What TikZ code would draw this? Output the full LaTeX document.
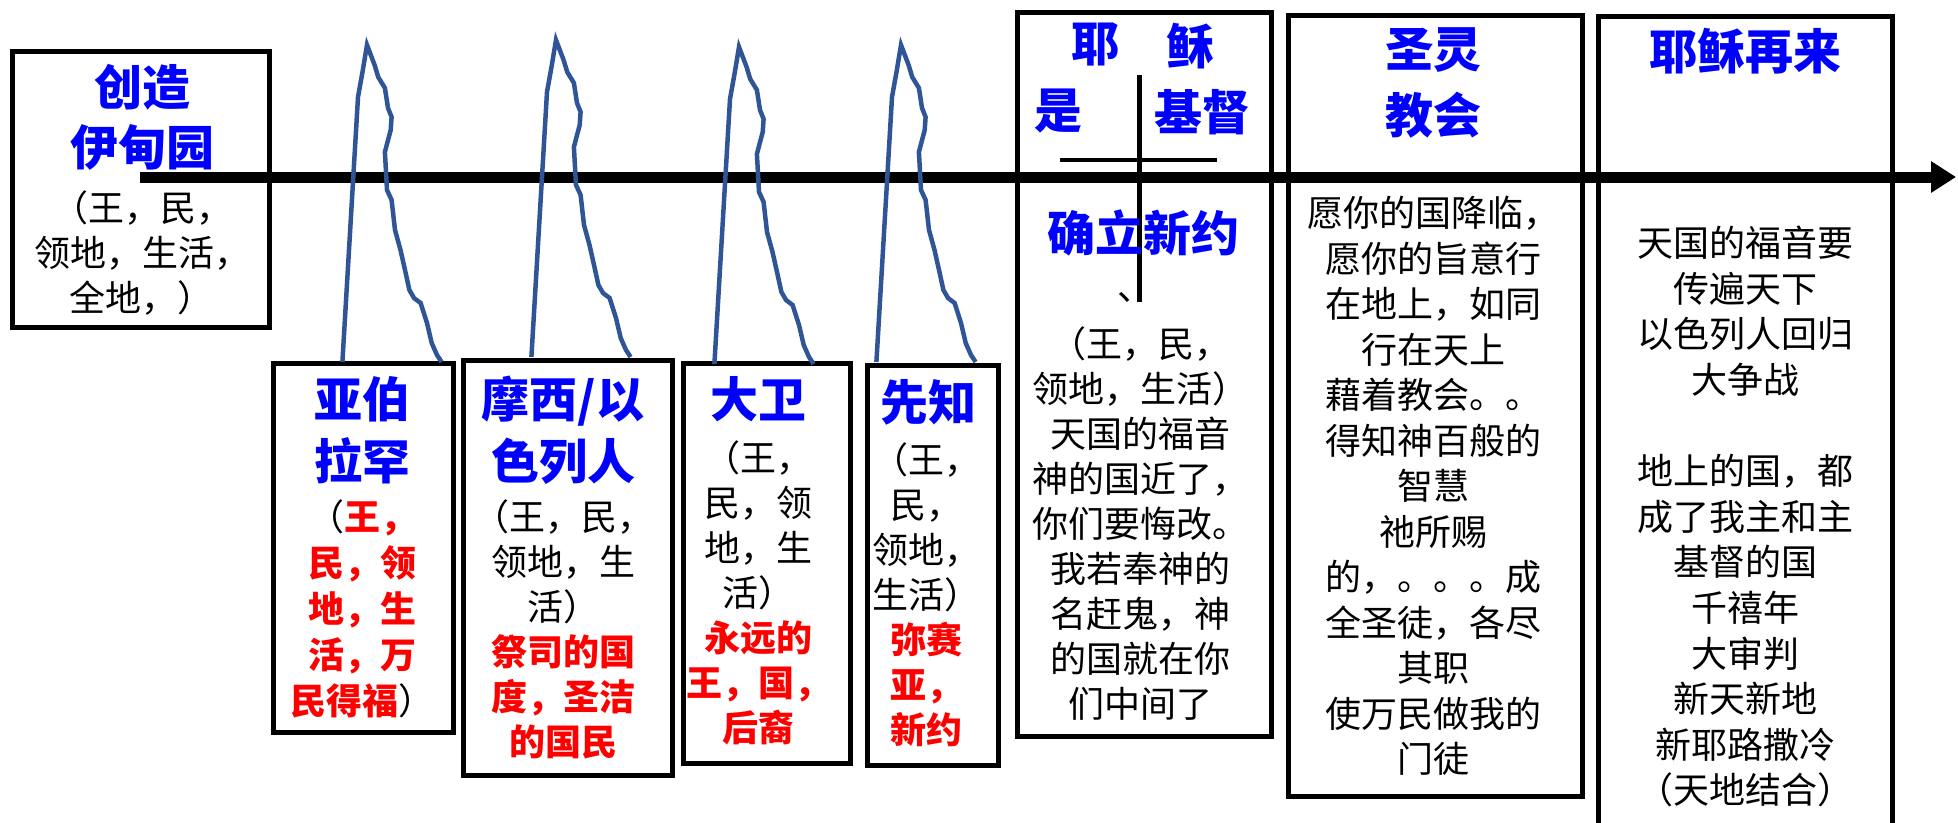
\documentclass[tikz,border=0pt]{standalone}
\usepackage{fontspec}
\setmainfont{Noto Sans CJK SC}
\usetikzlibrary{arrows.meta}
\definecolor{ridgeblue}{RGB}{47,85,151}
\definecolor{headblue}{RGB}{0,0,255}

\begin{document}
\begin{tikzpicture}[x=1pt,y=-1pt,
	frame/.style={line width=5pt},
	heading/.style={text=headblue,font=\fontsize{48}{62}\selectfont\bfseries,align=center,anchor=north,inner sep=0pt},
	plain/.style={font=\fontsize{36}{45}\selectfont,align=center,anchor=north,inner sep=0pt},
	ridge/.style={ridgeblue,line width=4.5pt}]
		\useasboundingbox (0,0) rectangle (1958,822);
		\clip (0,0) rectangle (1958,822);
		% boxes
		\draw [frame] (12,51) rectangle (269,327);
		\draw [frame] (273,363) rectangle (453,732);
		\draw [frame] (463,360) rectangle (672,775);
		\draw [frame] (683,363) rectangle (850,763);
		\draw [frame] (867,365) rectangle (998,765);
		\draw [frame] (1017,12) rectangle (1271,736);
		\draw [frame] (1288,15) rectangle (1582,796);
		\draw [frame] (1598,16) rectangle (1892,860);
		% time line
		\coordinate (T0) at (140,177);
		\coordinate (T1) at (1956,177);
		\draw [line width=11pt,-{Triangle[length=25pt,width=30pt]}] (T0) to (T1);
		% mountains
		\foreach \px/\py in {367/45,556/40,739/47,901/45}
			\draw [ridge,shift={(\px,\py)}] (-24.6,317) -- (-9,52) -- (-4.5,27) -- (0,0) -- (7.6,20) -- (11.2,32) -- (17.9,43) -- (21,63) -- (24.6,72) -- (23.7,85) -- (17.9,107) -- (20,145) -- (24.6,155) -- (28,185) -- (33.5,205) -- (38,225) -- (42.4,245) -- (47,253) -- (53.6,258) -- (60,278) -- (64.7,298) -- (70,310) -- (74.6,317);
		% cross
		\coordinate (C0) at (1139,75);
		\coordinate (C1) at (1139,302);
		\coordinate (C2) at (1060,160);
		\coordinate (C3) at (1217,160);
		\draw [line width=5pt] (C0) to (C1);
		\draw [line width=4pt] (C2) to (C3);
		% texts
		\node [heading] (eden) at (142,64) {创造\\[-2pt]伊甸园};
		\node [plain] (edenbody) at (142,190) {（王，民，\\领地，生活，\\全地，）};
		\node [heading] (abram) at (362,376) {亚伯\\拉罕};
		\node [plain,text=red,font=\fontsize{36}{46}\selectfont\bfseries] (abrambody) at (362,499) {{\color{black}\mdseries（}王，\\民，领\\地，生\\活，万\\民得福{\color{black}\mdseries ）}};
		\node [heading] (moses) at (563,376) {摩西/以\\色列人};
		\node [plain] (mosesbody) at (563,499) {（王，民，\\领地，生\\活）\\{\color{red}\bfseries 祭司的国}\\{\color{red}\bfseries 度，圣洁}\\{\color{red}\bfseries 的国民}};
		\node [heading] (david) at (758,376) {大卫};
		\node [plain] (davidbody) at (758,440) {（王，\\民，领\\地，生\\活）\\{\color{red}\bfseries 永远的}\\{\color{red}\bfseries 王，国，}\\{\color{red}\bfseries 后裔}};
		\node [heading] (prophet) at (928,379) {先知};
		\node [plain] (prophetbody) at (926,442) {（王，\\民，\\领地，\\生活）\\{\color{red}\bfseries 弥赛}\\{\color{red}\bfseries 亚，}\\{\color{red}\bfseries 新约}};
		\node [heading] (jesusA) at (1095,23) {耶};
		\node [heading] (jesusB) at (1190,23) {稣};
		\node [heading] (jesusC) at (1058,89) {是};
		\node [heading] (jesusD) at (1202,89) {基督};
		\node [heading] (covenant) at (1143,210) {确立新约};
		\node [plain] (comma) at (1135,292) {、};
		\node [plain] (jesusbody) at (1140,326) {（王，民，\\领地，生活）\\天国的福音\\神的国近了，\\你们要悔改。\\我若奉神的\\名赶鬼，神\\的国就在你\\们中间了};
		\node [heading,font=\fontsize{48}{66}\selectfont\bfseries] (church) at (1433,27) {圣灵\\教会};
		\node [plain,font=\fontsize{36}{45.5}\selectfont] (churchbody) at (1433,196) {愿你的国降临，\\愿你的旨意行\\在地上，如同\\行在天上\\藉着教会。。\\得知神百般的\\智慧\\祂所赐\\的，。。。成\\全圣徒，各尽\\其职\\使万民做我的\\门徒};
		\node [heading] (advent) at (1745,28) {耶稣再来};
		\node [plain,font=\fontsize{36}{45.6}\selectfont] (adventbody) at (1745,226) {天国的福音要\\传遍天下\\以色列人回归\\大争战\\[45.6pt]地上的国，都\\成了我主和主\\基督的国\\千禧年\\大审判\\新天新地\\新耶路撒冷\\（天地结合）};
	\end{tikzpicture}
\end{document}
